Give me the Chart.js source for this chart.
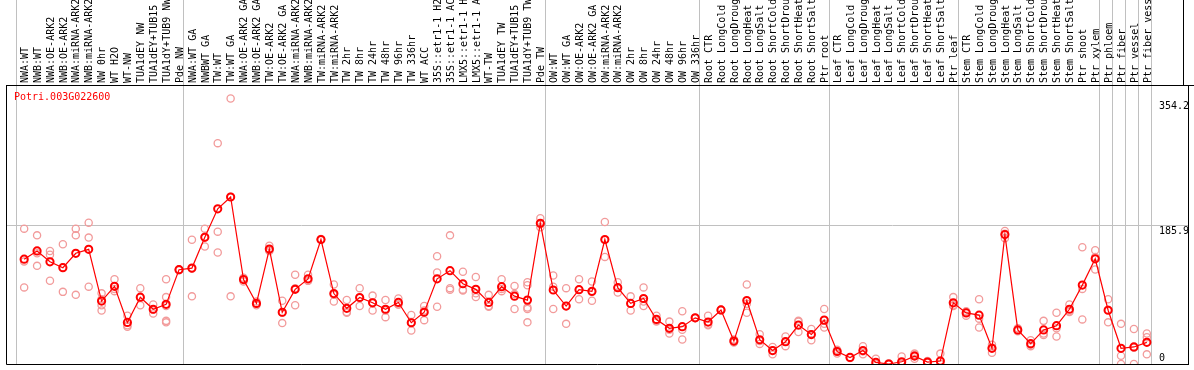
<!DOCTYPE html>
<html><head><meta charset="utf-8">
<script src="https://cdn.jsdelivr.net/npm/chart.js@4/dist/chart.umd.min.js"></script>
<style>html,body{margin:0;padding:0;background:#fff;overflow:hidden}</style>
</head><body>
<canvas id="c" width="1194" height="370" style="display:block;width:1194px;height:370px"></canvas>
<script>
const geneId = 'Potri.003G022600';

const categories = [
  'NWA:WT','NWB:WT','NWA:OE-ARK2','NWB:OE-ARK2','NWA:miRNA-ARK2','NWB:miRNA-ARK2','NW 0hr','WT H2O','WT-NW',
  'TUA1dEY NW','TUA1dEY+TUB15 NW','TUA1dY+TUB9 NW','Pde NW',
  'NWA:WT GA','NWBWT GA','TW:WT','TW:WT GA','NWA:OE-ARK2 GA','NWB:OE-ARK2 GA','TW:OE-ARK2','TW:OE-ARK2 GA',
  'NWA:miRNA-ARK2','NWB:miRNA-ARK2','TW:miRNA-ARK2','TW:miRNA-ARK2',
  'TW 2hr','TW 8hr','TW 24hr','TW 48hr','TW 96hr','TW 336hr','WT ACC',
  '35S::etr1-1 H2O','35S::etr1-1 ACC','LMX5::etr1-1 H2O','LMX5::etr1-1 ACC','WT-TW',
  'TUA1dEY TW','TUA1dEY+TUB15 TW','TUA1dY+TUB9 TW','Pde TW',
  'OW:WT','OW:WT GA','OW:OE-ARK2','OW:OE-ARK2 GA','OW:miRNA-ARK2','OW:miRNA-ARK2',
  'OW 2hr','OW 8hr','OW 24hr','OW 48hr','OW 96hr','OW 336hr',
  'Root CTR','Root LongCold','Root LongDrought','Root LongHeat','Root LongSalt','Root ShortCold',
  'Root ShortDrought','Root ShortHeat','Root ShortSalt','Ptr root',
  'Leaf CTR','Leaf LongCold','Leaf LongDrought','Leaf LongHeat','Leaf LongSalt','Leaf ShortCold',
  'Leaf ShortDrought','Leaf ShortHeat','Leaf ShortSalt','Ptr leaf',
  'Stem CTR','Stem LongCold','Stem LongDrought','Stem LongHeat','Stem LongSalt','Stem ShortCold',
  'Stem ShortDrought','Stem ShortHeat','Stem ShortSalt','Ptr shoot','Ptr xylem',
  'Ptr phloem','Ptr fiber','Ptr vessel','Ptr fiber vessel'
];

const means = [
  141,152,137.4,129.5,148.9,154.2,84.6,104.4,55.9,89.8,73.6,80.2,126.8,
  129,170.4,208.7,224.6,113.6,81.5,154.6,69.6,100.4,114.5,167.4,94.7,74.9,89.4,82.3,73.6,82.8,55.5,69.6,
  114.5,125.5,107.9,100.4,82.8,104,91.2,85.9,189.3,
  99.5,77.9,100,97.8,167.4,102.6,81.5,88.1,59.9,48,50.2,62.1,
  56.4,72.7,30.8,85.4,32.6,18.1,30,52.4,39.6,59,
  16.8,8.8,18.1,2.2,0,3,10.6,2.6,4,82.3,
  68.7,65.7,21.1,174,45.8,27.3,45.8,51.5,73.6,106.1,141.4,
  72.3,21.1,22.9,29.1
];

const replicates = [
  [182,103,138],[173,149,132],[152,147,112],[161,97,130],[182,173,93],[190,170,104],[95,87,79,72],
  [114,98,101],[65,52,50],[102,79,89],[80,68,73],[114,90,78,58,56],[127,127,126],
  [167,91,128],[182,158,171],[297,178,150],[357,91,225],[116,111,114],[84,79,81],[159,152,153],
  [85,55,69],[120,79,102],[120,112,112],[167,168,167],[107,84,93],[86,69,70],[102,78,89],
  [92,72,83],[86,63,72],[88,80,80],[66,45,56],[78,59,72],[145,123,77],[173,102,100],
  [124,100,99],[117,95,90],[93,78,77],[114,98,101],[105,74,94],[110,106,76,74,56],[196,184,188],
  [119,104,74],[102,54,78],[114,87,100],[111,85,97],[191,144,167],[110,96,103],[91,72,81],
  [103,78,84],[65,57,58],[57,41,46],[71,46,33],[62,62,62],
  [65,52,53],[72,73,73],[33,30,29],[107,69,81],[40,27,31],[23,13,18],[37,24,30],[58,43,57],
  [47,32,40],[74,49,54],
  [19,14,17],[9,9,8],[24,13,17],[7,0,0],[1,0,0],[10,0,0],[14,7,12],[4,2,2],[14,0,0],[90,78,79],
  [71,65,70],[87,61,49],[26,15,22],[179,169,175],[48,44,45],[32,24,26],[58,39,41],[69,48,37],
  [80,71,70],[157,60,101],[153,127,144],
  [87,56,73],[54,11,0],[47,0,22],[41,36,13]
];

const groupStarts = [0, 13, 41, 53, 63, 73, 84, 85, 86, 87, 88];
const yTickValues = [0, 185.9, 354.2];
const gridTickValue = 185.9;

const FONT_CSS = '10px "DejaVu Sans Mono", monospace';
const X_MIN = -1.4075, X_MAX = 90.19, Y_MAX = 375.2, BOUND_SHIFT = 0.63;

const meanPoints = means.map((v, i) => ({x: i, y: v}));
const repPoints = [];
replicates.forEach((arr, i) => arr.forEach(v => repPoints.push({x: i, y: v})));

function noPad(s) { s.paddingLeft = 0; s.paddingRight = 0; s.paddingTop = 0; s.paddingBottom = 0; }

// draws the rotated category labels and the right-hand value labels from the chart's own scales
const labelPlugin = {
  id: 'labels',
  afterDraw(chart) {
    const {ctx, chartArea: a, scales} = chart;
    ctx.save();
    // frame
    ctx.strokeStyle = '#000'; ctx.lineWidth = 1;
    ctx.beginPath();
    ctx.moveTo(a.left + 0.5, a.top); ctx.lineTo(a.left + 0.5, a.bottom + 0.5);
    ctx.lineTo(a.right, a.bottom + 0.5);
    ctx.moveTo(a.left, a.top + 0.5); ctx.lineTo(chart.width, a.top + 0.5);
    ctx.moveTo(a.right - 4.5, 0); ctx.lineTo(a.right - 4.5, a.top);
    ctx.stroke();
    ctx.font = FONT_CSS;
    ctx.textAlign = 'left';
    ctx.textBaseline = 'alphabetic';
    // category labels
    ctx.fillStyle = '#000';
    scales.x.ticks.forEach(t => {
      const px = scales.x.getPixelForValue(t.value);
      ctx.save();
      ctx.translate(px + 3.7, a.top - 2);
      ctx.rotate(-Math.PI / 2);
      ctx.fillText(categories[t.value], 0, 0);
      ctx.restore();
    });
    // value labels
    yTickValues.forEach(v => {
      let py = scales.y.getPixelForValue(v) + 8.7;
      py = Math.min(py, a.bottom - 3.5);
      ctx.fillText(String(v), a.right - 29, py);
    });
    // gene id
    ctx.fillStyle = '#ff0000';
    ctx.textBaseline = 'middle';
    ctx.fillText(geneId, a.left + 8, a.top + 12);
    ctx.restore();
  }
};

new Chart(document.getElementById('c'), {
  type: 'scatter',
  data: {
    datasets: [
      {type: 'line', data: meanPoints, borderColor: '#ff0000', borderWidth: 1.2,
       pointRadius: 3.6, pointBorderWidth: 2, pointBorderColor: '#ff0000',
       pointBackgroundColor: 'rgba(0,0,0,0)', tension: 0, fill: false, order: 0, clip: 0},
      {type: 'scatter', data: repPoints, pointRadius: 3.6, borderWidth: 1.3,
       borderColor: '#f29b9b', backgroundColor: 'rgba(0,0,0,0)', showLine: false, order: 1, clip: 0}
    ]
  },
  options: {
    responsive: false, animation: false, devicePixelRatio: 1, events: [],
    layout: {padding: {left: 1, right: 0, top: 0, bottom: 1}},
    plugins: {legend: {display: false}, tooltip: {enabled: false}, title: {display: false}},
    scales: {
      x: {
        type: 'linear', position: 'top', min: X_MIN, max: X_MAX, weight: 10,
        afterBuildTicks: s => { s.ticks = categories.map((_, i) => ({value: i})); },
        afterFit: s => { s.height = 85; noPad(s); },
        grid: {display: false, drawTicks: false}, border: {display: false},
        ticks: {display: false}
      },
      xg: {
        type: 'linear', position: 'top', min: X_MIN, max: X_MAX, weight: 0,
        afterBuildTicks: s => { s.ticks = groupStarts.map(g => ({value: g - BOUND_SHIFT})); },
        afterFit: s => { s.height = 0; noPad(s); },
        grid: {display: true, color: '#c0c0c0', lineWidth: 1, drawTicks: true, tickLength: 85},
        border: {display: false},
        ticks: {display: false}
      },
      y: {
        type: 'linear', position: 'right', min: 0, max: Y_MAX,
        afterBuildTicks: s => { s.ticks = yTickValues.map(v => ({value: v})); },
        afterFit: s => { s.width = 2; noPad(s); },
        grid: {color: c => (c.tick && c.tick.value === gridTickValue) ? '#c0c0c0' : 'rgba(0,0,0,0)', drawTicks: false},
        border: {display: true, color: '#000', width: 1},
        ticks: {display: false}
      }
    }
  },
  plugins: [labelPlugin]
});
</script>
</body></html>
